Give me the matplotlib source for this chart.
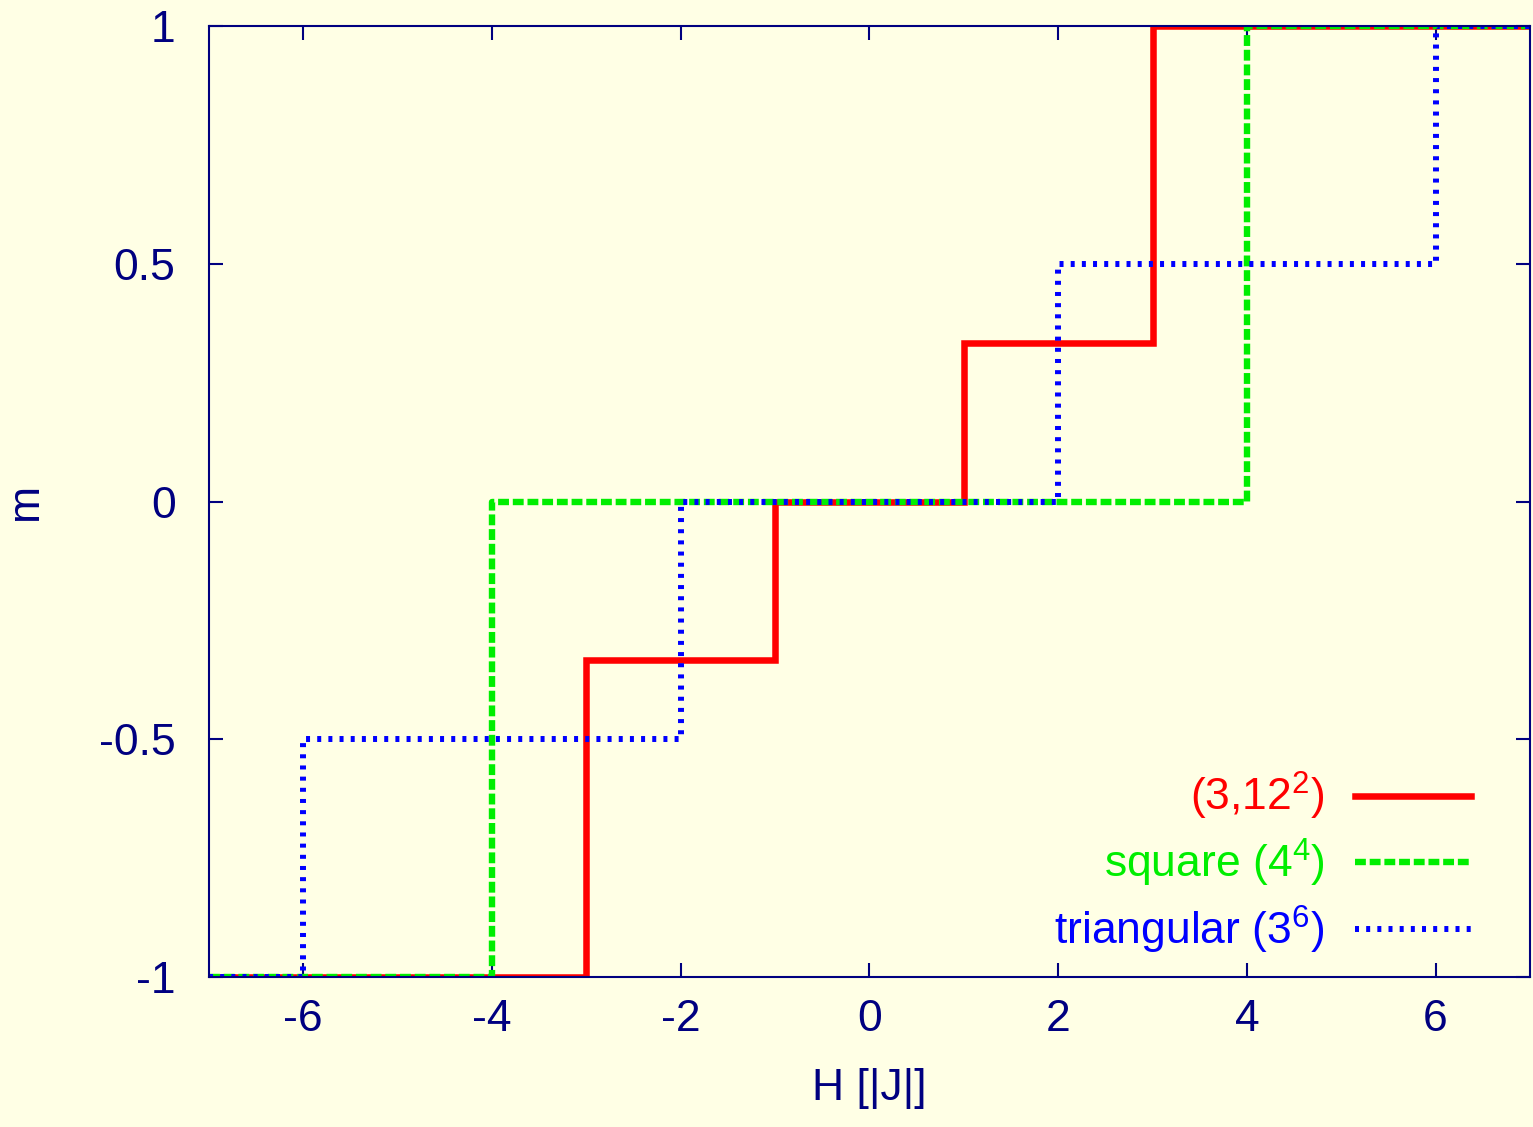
import matplotlib
matplotlib.use("Agg")
from matplotlib import pyplot as plt

plt.rcParams['font.family'] = ['Liberation Sans', 'DejaVu Sans']
plt.rcParams['mathtext.fontset'] = 'custom'
plt.rcParams['mathtext.rm'] = 'Liberation Sans'
plt.rcParams['mathtext.default'] = 'regular'

navy = '#000080'
bg = '#ffffe5'

# magnetisation steps: field breakpoints and m value after each breakpoint
h_kagome = [-7, -3, -1, 1, 3, 7]
m_kagome = [-1, -1/3, 0, 1/3, 1, 1]

h_square = [-7, -4, 4, 7]
m_square = [-1, 0, 1, 1]

h_tri = [-7, -6, -2, 2, 6, 7]
m_tri = [-1, -0.5, 0, 0.5, 1, 1]

labels = ['(3,12$^2$)', 'square (4$^4$)', 'triangular (3$^6$)']
x_ticks = [-6, -4, -2, 0, 2, 4, 6]
y_ticks = [-1, -0.5, 0, 0.5, 1]
y_ticklabels = ['-1', '-0.5', '0', '0.5', '1']

fs = 32

fig = plt.figure(figsize=(15.33, 11.27), dpi=100, facecolor=bg)
ax = fig.add_axes([0.1363, 0.1331, 0.8617, 0.8438])
ax.set_facecolor(bg)

ax.step(h_kagome, m_kagome, where='post', color='#ff0000', lw=4.7,
        label=labels[0], solid_joinstyle='miter')
ax.step(h_square, m_square, where='post', color='#00ee00', lw=4.6,
        dashes=(1.7, 0.6), label=labels[1])
ax.step(h_tri, m_tri, where='post', color='#0000ff', lw=4.3,
        dashes=(0.67, 1.2), label=labels[2])

ax.set_xlim(-7, 7)
ax.set_ylim(-1, 1)
ax.set_xticks(x_ticks)
ax.set_xticklabels([str(t) for t in x_ticks])
ax.set_yticks(y_ticks)
ax.set_yticklabels(y_ticklabels)

ax.tick_params(direction='in', length=10, width=1.5, colors=navy,
               labelsize=fs, top=True, right=True)
ax.tick_params(axis='x', pad=16)
ax.tick_params(axis='y', pad=24)
for s in ax.spines.values():
    s.set_color(navy)
    s.set_linewidth(1.5)

ax.set_xlabel('H [|J|]', fontsize=fs, color=navy, labelpad=20)
ax.set_ylabel('m', fontsize=fs, color=navy, labelpad=38)

leg = ax.legend(loc='lower right', markerfirst=False, frameon=False,
                fontsize=fs, handlelength=2.62, handletextpad=0.68,
                labelspacing=0.33, bbox_to_anchor=(0.986, -0.02))
for txt, line in zip(leg.get_texts(), leg.get_lines()):
    txt.set_color(line.get_color())

fig.savefig('out.png', dpi=100, facecolor=bg)
